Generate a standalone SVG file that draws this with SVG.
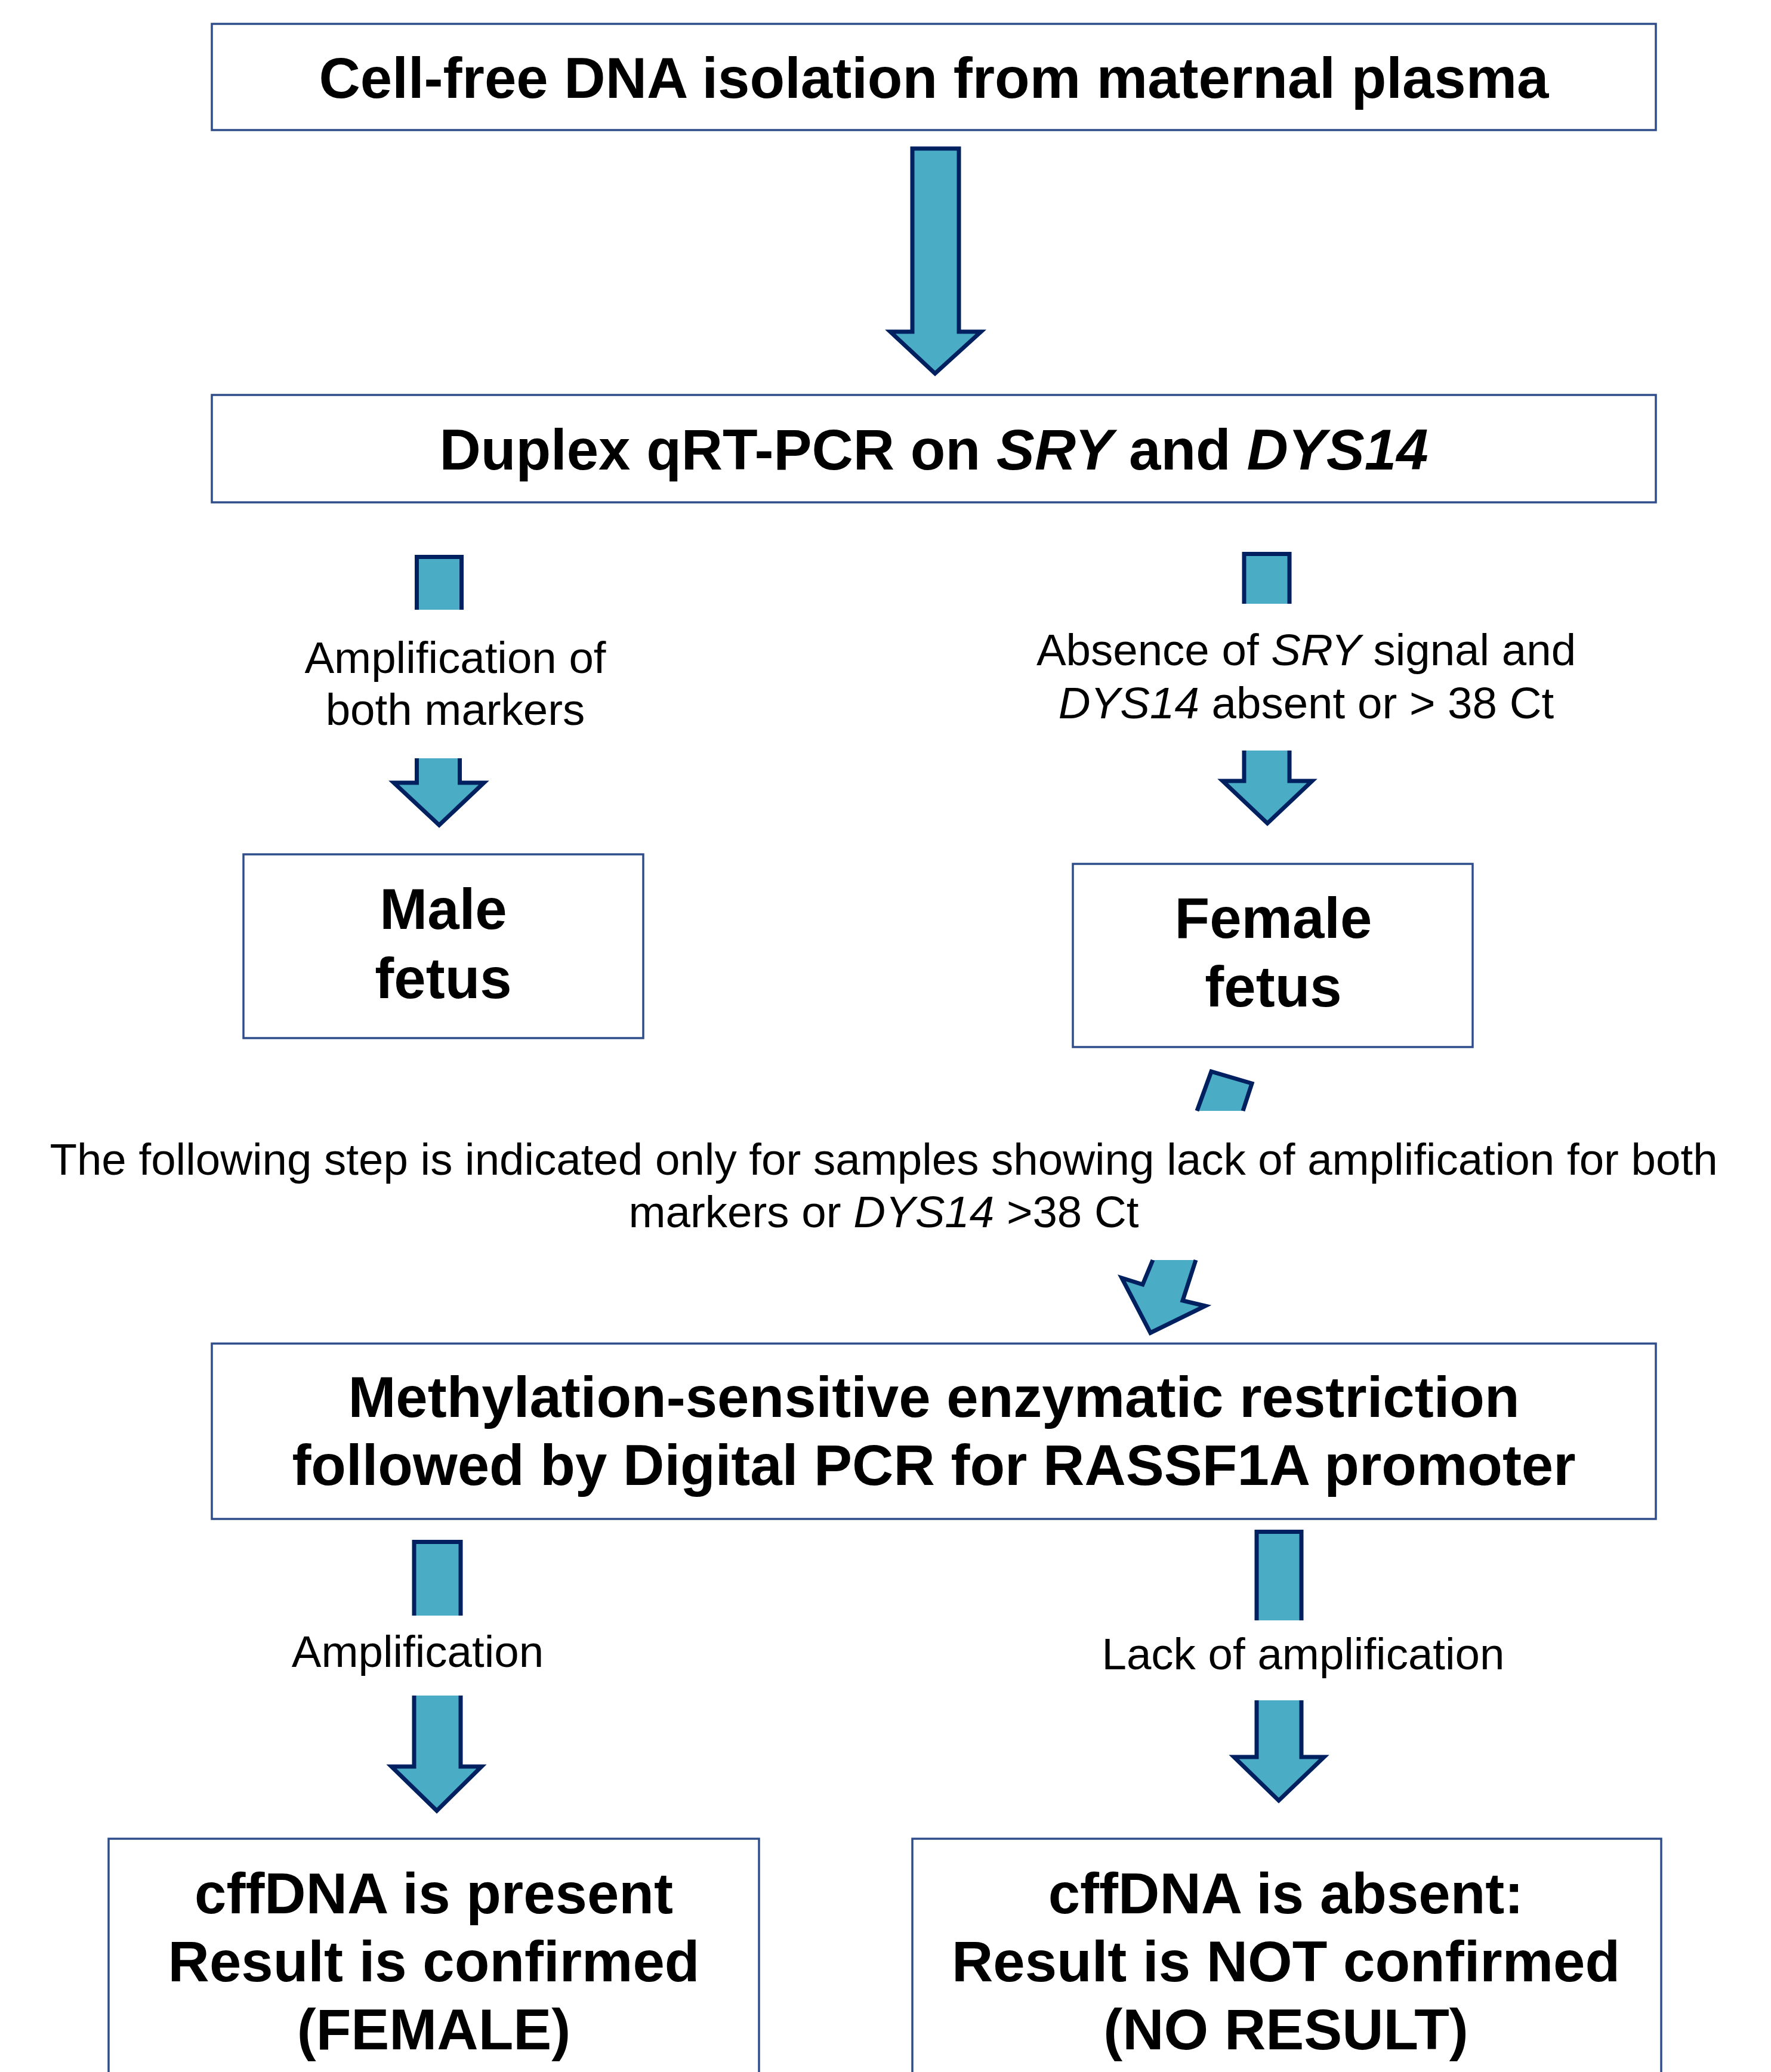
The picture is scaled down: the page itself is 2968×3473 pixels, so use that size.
<svg xmlns="http://www.w3.org/2000/svg" width="2968" height="3473" viewBox="0 0 2968 3473">
<style>
.box{fill:#ffffff;stroke:#2E4D8A;stroke-width:3.5}
.arr{fill:#4BACC6;stroke:#002060;stroke-width:7;stroke-linejoin:miter;stroke-miterlimit:10}
.bt{font-family:"Liberation Sans",Arial,sans-serif;font-weight:bold;font-size:96px;fill:#000;text-anchor:middle}
.lt{font-family:"Liberation Sans",Arial,sans-serif;font-size:74.5px;fill:#000;text-anchor:middle}
.i{font-style:italic}
</style>
<rect width="2968" height="3473" fill="#ffffff"/>
<g id="connectors">
<path class="arr" d="M1529,249 V556 H1492 L1567,626 L1644,556 H1607 V249 Z"/>
<path class="arr" d="M698.5,1022 V933.5 H773.5 V1022"/>
<path class="arr" d="M698.5,1271 V1312 H660 L736,1383 L811,1312 H770.5 V1271"/>
<path class="arr" d="M2085,1012 V928.5 H2161 V1012"/>
<path class="arr" d="M2085,1258 V1309 H2049 L2124,1380 L2199,1309 H2161 V1258"/>
<path class="arr" d="M2006,1862 L2030,1796 L2098,1816 L2083,1862"/>
<path class="arr" d="M2004,2112 L1982,2180 L2020,2189 L1928,2234 L1880,2142 L1915,2153 L1932,2112"/>
<path class="arr" d="M694,2708 V2584.5 H772 V2708"/>
<path class="arr" d="M694,2842 V2961 H656 L732,3035 L807,2961 H772 V2842"/>
<path class="arr" d="M2106,2716 V2567.5 H2181 V2716"/>
<path class="arr" d="M2106,2850 V2945 H2068 L2143,3018 L2219,2945 H2181 V2850"/>
</g>
<g id="n1">
<rect class="box" x="355" y="40" width="2420" height="178"/>
<text class="bt" x="1565" y="164">Cell-free DNA isolation from maternal plasma</text>
</g>
<g id="n2">
<rect class="box" x="355" y="662" width="2420" height="180"/>
<text class="bt" x="1565" y="787">Duplex qRT-PCR on <tspan class="i">SRY</tspan> and <tspan class="i">DYS14</tspan></text>
</g>
<g id="l1">
<text class="lt" x="763" y="1128">Amplification of</text>
<text class="lt" x="763" y="1215">both markers</text>
</g>
<g id="l2">
<text class="lt" x="2189" y="1115">Absence of <tspan class="i">SRY</tspan> signal and</text>
<text class="lt" x="2189" y="1204"><tspan class="i">DYS14</tspan> absent or &gt; 38 Ct</text>
</g>
<g id="n3">
<rect class="box" x="408" y="1432" width="670" height="308"/>
<text class="bt" x="743" y="1557">Male</text>
<text class="bt" x="743" y="1673">fetus</text>
</g>
<g id="n4">
<rect class="box" x="1798" y="1448" width="670" height="307"/>
<text class="bt" x="2134" y="1572">Female</text>
<text class="bt" x="2134" y="1687">fetus</text>
</g>
<g id="note">
<text class="lt" x="1481" y="1969">The following step is indicated only for samples showing lack of amplification for both</text>
<text class="lt" x="1481" y="2057">markers or <tspan class="i">DYS14</tspan> &gt;38 Ct</text>
</g>
<g id="n5">
<rect class="box" x="355" y="2252" width="2420" height="294"/>
<text class="bt" x="1565" y="2375">Methylation-sensitive enzymatic restriction</text>
<text class="bt" x="1565" y="2489">followed by Digital PCR for RASSF1A promoter</text>
</g>
<g id="l3">
<text class="lt" x="700" y="2794">Amplification</text>
</g>
<g id="l4">
<text class="lt" x="2184" y="2798">Lack of amplification</text>
</g>
<g id="n6">
<rect class="box" x="182" y="3082" width="1090" height="420"/>
<text class="bt" x="727" y="3207">cffDNA is present</text>
<text class="bt" x="727" y="3321">Result is confirmed</text>
<text class="bt" x="727" y="3435">(FEMALE)</text>
</g>
<g id="n7">
<rect class="box" x="1529" y="3082" width="1255" height="420"/>
<text class="bt" x="2155" y="3207">cffDNA is absent:</text>
<text class="bt" x="2155" y="3321">Result is NOT confirmed</text>
<text class="bt" x="2155" y="3435">(NO RESULT)</text>
</g>
</svg>
